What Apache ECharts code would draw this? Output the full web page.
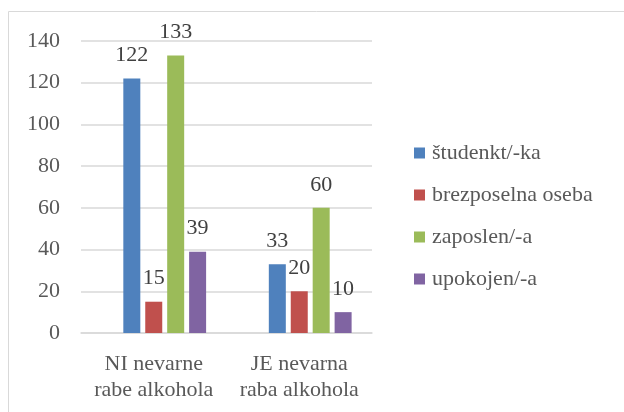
<!DOCTYPE html>
<html><head><meta charset="utf-8">
<script src="https://cdn.jsdelivr.net/npm/echarts@6/dist/echarts.min.js"></script>
<style>html,body{margin:0;padding:0;background:#fff}#c{width:624px;height:412px}</style>
</head><body><div id="c"></div>
<script>
const categories = ['NI nevarne\nrabe alkohola', 'JE nevarna\nraba alkohola'];
const seriesNames = ['študenkt/-ka', 'brezposelna oseba', 'zaposlen/-a', 'upokojen/-a'];
const studentValues = [122, 33];
const brezposelnaValues = [15, 20];
const zaposlenValues = [133, 60];
const upokojenValues = [39, 10];
const yTicks = [0, 20, 40, 60, 80, 100, 120, 140];
const colors = ['#4F81BD', '#C0504D', '#9BBB59', '#8064A2'];
const valueSets = [studentValues, brezposelnaValues, zaposlenValues, upokojenValues];

const font = 'Liberation Serif';
const fs = 22;
const chart = echarts.init(document.getElementById('c'), null, {renderer: 'canvas'});
const series = [{
  name: '_spacer', type: 'bar', barWidth: 17, barGap: '29%', data: [], silent: true
}];
valueSets.forEach((vals, i) => {
  series.push({
    name: seriesNames[i], type: 'bar', barWidth: 17, barGap: '29%',
    itemStyle: {color: colors[i]},
    label: {show: true, position: 'top', distance: 12, color: '#404040', fontFamily: font, fontSize: fs},
    data: vals
  });
});
chart.setOption({
  animation: false,
  graphic: [{type: 'rect', shape: {x: 8.5, y: 11.5, width: 700, height: 500}, style: {fill: 'none', stroke: '#d9d9d9', lineWidth: 1}}],
  grid: {left: 81, top: 41, width: 291, height: 292, containLabel: false},
  legend: {
    data: seriesNames, orient: 'vertical', left: 409, top: 137, itemWidth: 11, itemHeight: 11, itemGap: 20,
    icon: 'rect', textStyle: {color: '#595959', fontFamily: font, fontSize: fs, padding: [0, 0, 0, 2]}
  },
  xAxis: {
    type: 'category', data: categories,
    axisLine: {lineStyle: {color: '#d9d9d9', width: 1.5}}, axisTick: {show: false},
    axisLabel: {interval: 0, hideOverlap: false, color: '#595959', fontFamily: font, fontSize: fs, lineHeight: 26, margin: 18}
  },
  yAxis: {
    type: 'value', min: yTicks[0], max: yTicks[yTicks.length - 1], interval: 20,
    axisLine: {show: false}, axisTick: {show: false},
    splitLine: {lineStyle: {color: '#d9d9d9', width: 1.5}},
    axisLabel: {color: '#595959', fontFamily: font, fontSize: fs, margin: 21}
  },
  series: series
});
</script></body></html>
